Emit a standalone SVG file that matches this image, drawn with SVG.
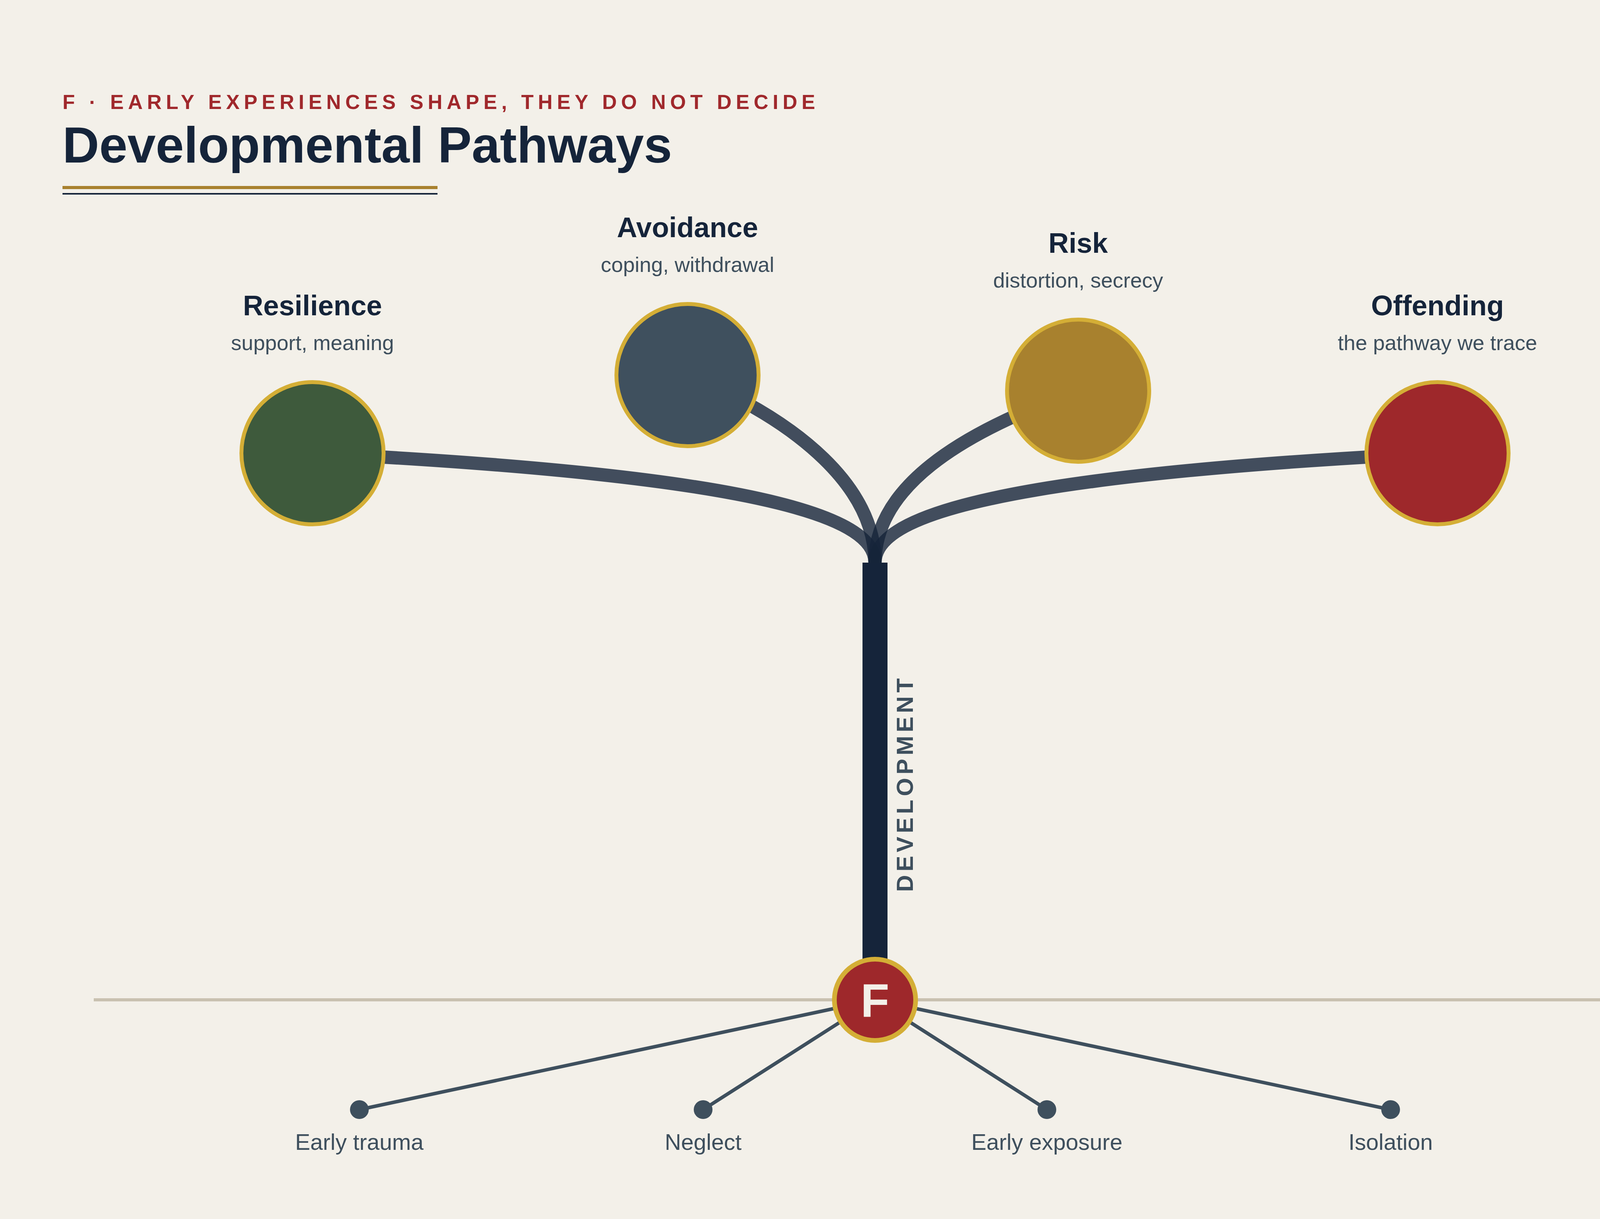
<svg xmlns="http://www.w3.org/2000/svg" width="4480" height="3120" viewBox="0 0 4480 3120">
<style>
.bg{fill:#f3f0e9}
.branch{fill:none;stroke:#15243a;stroke-opacity:0.8;stroke-width:34;stroke-linecap:butt}
.root{stroke:#3e4f5d;stroke-width:9;fill:none}
.dot{fill:#3e4f5d}
.node{stroke:#d4ae36;stroke-width:10}
.ttl{font-family:"Liberation Sans",Arial,sans-serif;font-weight:700;font-size:72px;fill:#15243a;text-anchor:middle}
.sub{font-family:"Liberation Sans",Arial,sans-serif;font-size:54px;fill:#3e4f5d;text-anchor:middle}
.rlab{font-family:"Liberation Sans",Arial,sans-serif;font-size:58px;fill:#3e4f5d;text-anchor:middle}
</style>
<rect class="bg" x="0" y="0" width="4480" height="3120"/>

<g id="header">
<text x="160" y="279" font-family="Liberation Sans, Arial, sans-serif" font-weight="700" font-size="52" letter-spacing="11" fill="#a0282c">F · EARLY EXPERIENCES SHAPE, THEY DO NOT DECIDE</text>
<text x="160" y="416" font-family="Liberation Sans, Arial, sans-serif" font-weight="700" font-size="130" fill="#15243a">Developmental Pathways</text>
<rect x="160" y="476" width="960" height="8" fill="#a8812e"/>
<rect x="160" y="494" width="960" height="4" fill="#15243a"/>
</g>

<line id="ground" x1="240" y1="2559" x2="4240" y2="2559" stroke="#c9c1b0" stroke-width="8"/>

<g id="connectors">
<path class="branch" d="M800,1160 C1800,1210 2240,1300 2240,1440"/>
<path class="branch" d="M1760,960 C2050,1080 2240,1250 2240,1440"/>
<path class="branch" d="M2760,1000 C2450,1110 2240,1250 2240,1440"/>
<path class="branch" d="M3680,1160 C2680,1210 2240,1300 2240,1440"/>
<rect id="trunk" x="2208" y="1440" width="64" height="1120" fill="#15243a"/>
<line class="root" x1="2240" y1="2559" x2="920" y2="2840"/>
<line class="root" x1="2240" y1="2559" x2="1800" y2="2840"/>
<line class="root" x1="2240" y1="2559" x2="2680" y2="2840"/>
<line class="root" x1="2240" y1="2559" x2="3560" y2="2840"/>
</g>

<text id="development-label" transform="translate(2315,2005) rotate(-90)" x="0" y="22" font-family="Liberation Sans, Arial, sans-serif" font-weight="700" font-size="60" letter-spacing="9" fill="#3e4f5d" text-anchor="middle">DEVELOPMENT</text>

<g id="node-resilience">
<circle class="node" cx="800" cy="1160" r="182" fill="#3e5a3c"/>
<text class="ttl" x="800" y="807">Resilience</text>
<text class="sub" x="800" y="896">support, meaning</text>
</g>
<g id="node-avoidance">
<circle class="node" cx="1760" cy="960" r="182" fill="#3f505e"/>
<text class="ttl" x="1760" y="607">Avoidance</text>
<text class="sub" x="1760" y="696">coping, withdrawal</text>
</g>
<g id="node-risk">
<circle class="node" cx="2760" cy="1000" r="182" fill="#a8812e"/>
<text class="ttl" x="2760" y="647">Risk</text>
<text class="sub" x="2760" y="736">distortion, secrecy</text>
</g>
<g id="node-offending">
<circle class="node" cx="3680" cy="1160" r="182" fill="#9e282b"/>
<text class="ttl" x="3680" y="807">Offending</text>
<text class="sub" x="3680" y="896">the pathway we trace</text>
</g>

<g id="node-f">
<circle cx="2240" cy="2559" r="104" fill="#9e282b" stroke="#d4ae36" stroke-width="12"/>
<text x="2240" y="2602" font-family="Liberation Sans, Arial, sans-serif" font-weight="700" font-size="120" fill="#f3f0e9" text-anchor="middle">F</text>
</g>

<g id="root-early-trauma"><circle class="dot" cx="920" cy="2840" r="24"/><text class="rlab" x="920" y="2943">Early trauma</text></g>
<g id="root-neglect"><circle class="dot" cx="1800" cy="2840" r="24"/><text class="rlab" x="1800" y="2943">Neglect</text></g>
<g id="root-early-exposure"><circle class="dot" cx="2680" cy="2840" r="24"/><text class="rlab" x="2680" y="2943">Early exposure</text></g>
<g id="root-isolation"><circle class="dot" cx="3560" cy="2840" r="24"/><text class="rlab" x="3560" y="2943">Isolation</text></g>
</svg>
